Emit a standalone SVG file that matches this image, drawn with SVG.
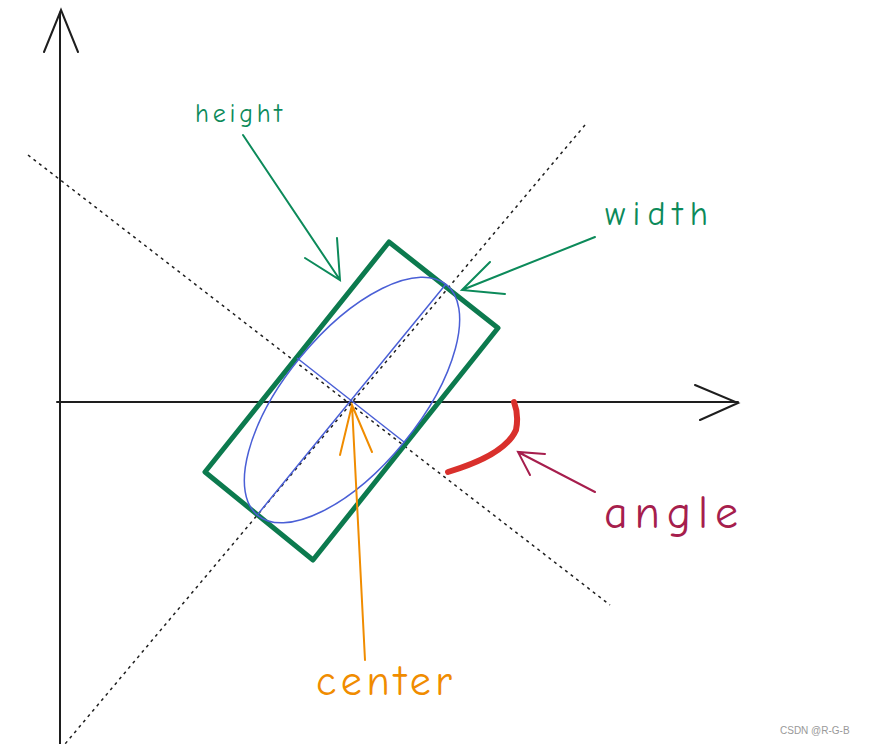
<svg xmlns="http://www.w3.org/2000/svg" width="889" height="744" viewBox="0 0 889 744">
<style>
.ax{stroke:#1e1e1e;stroke-width:2;fill:none;stroke-linecap:round}
.dot{stroke:#1e1e1e;stroke-width:1.5;stroke-dasharray:3 4;fill:none}
.g{stroke:#0c8a5a;stroke-width:2;fill:none;stroke-linecap:round}
.lbl{font-family:"Comic Neue","Lato","DejaVu Sans",sans-serif}
</style>
<rect width="889" height="744" fill="#fff"/>
<g id="axes">
<path class="ax" d="M60,12 L60,744 M44,52 L61,10 L78,52"/>
<path class="ax" d="M57,402 L738,402 M695,385 L738,403 L700,420"/>
</g>
<g id="guides">
<path class="dot" d="M28,155 L610,605"/>
<path class="dot" d="M585,125 L65,744"/>
</g>
<g id="rect"><polygon points="389,242 498,328 313,560 205,472" fill="none" stroke="#0c7a4e" stroke-width="5" stroke-linejoin="round"/></g>
<g id="ellipse" stroke="#4a5fd6" fill="none" stroke-width="1.5">
<ellipse cx="352" cy="400" rx="149" ry="67" transform="rotate(-50.7 352 400)"/>
<path d="M258,514 L446,284 M297,358 L404,442"/>
</g>
<g id="angle-arc"><path d="M448,472 Q505,455 516,430 Q519,415 514,402" stroke="#d9302c" stroke-width="6" fill="none" stroke-linecap="round"/></g>
<g id="connectors">
<path class="g" d="M243,135 L340,280 M305,258 L340,280 L337,238"/>
<path class="g" d="M595,237 L462,290 M490,262 L462,290 L505,294"/>
<path d="M595,492 L518,452 M530,475 L518,452 L545,454" stroke="#a61e4d" stroke-width="2" fill="none" stroke-linecap="round"/>
<path d="M365,660 L352,405 M340,455 L352,405 L372,452" stroke="#f08c00" stroke-width="2" fill="none" stroke-linecap="round"/>
</g>
<g id="labels" class="lbl">
<text x="195" y="122" font-size="26" fill="#0c8a5a" textLength="87">height</text>
<text x="605" y="225" font-size="34" fill="#0c8a5a" textLength="103">width</text>
<text x="604" y="528" font-size="46" fill="#a61e4d" textLength="134">angle</text>
<text x="316" y="695" font-size="42" fill="#f08c00" textLength="136">center</text>
<text x="780" y="734" font-size="10" fill="#999" font-family="Liberation Sans,sans-serif">CSDN @R-G-B</text>
</g>
</svg>
